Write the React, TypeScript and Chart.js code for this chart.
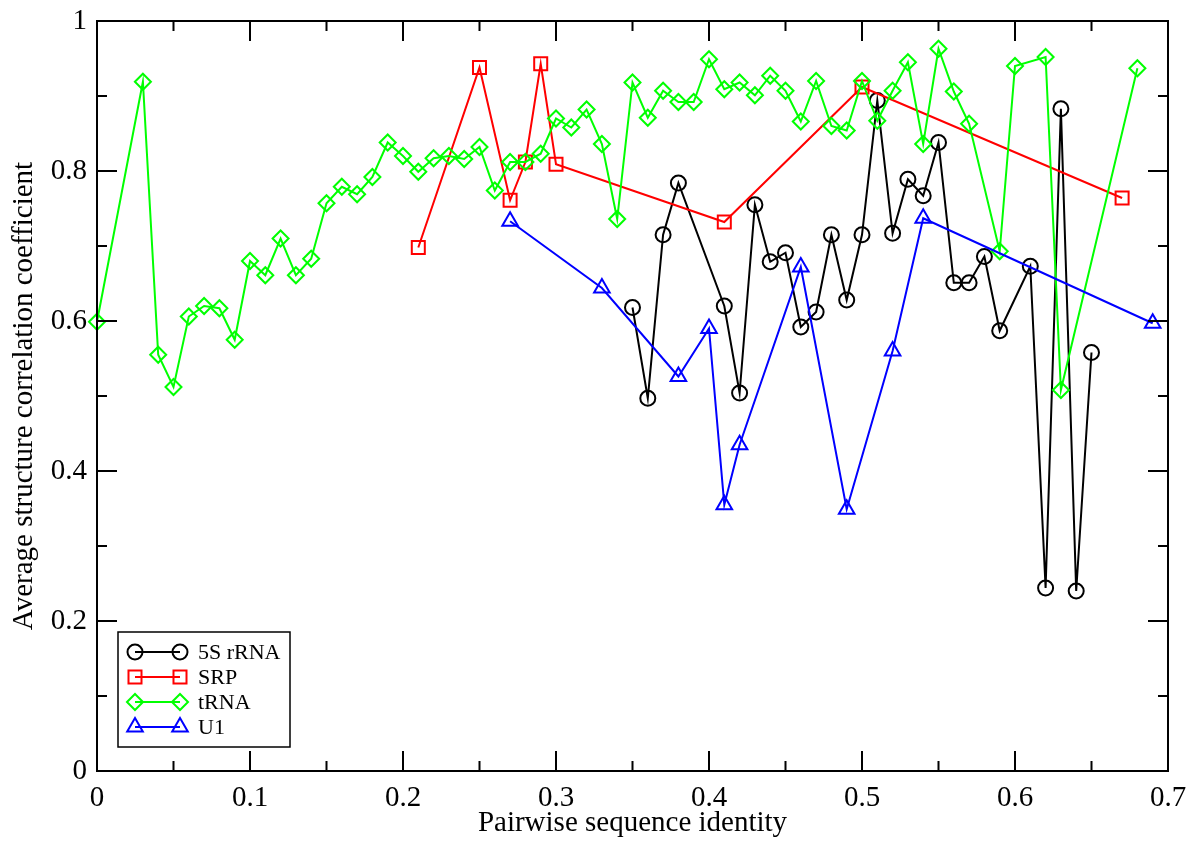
import React, { useEffect, useRef } from 'react';
import { Chart, registerables } from 'chart.js';
import { drawPoint } from 'chart.js/helpers';

Chart.register(...registerables);

// Pairwise sequence identity (x) vs. average structure correlation coefficient (y)
const rrna5sX = [0.35, 0.36, 0.37, 0.38, 0.41, 0.42, 0.43, 0.44, 0.45, 0.46, 0.47, 0.48, 0.49, 0.5, 0.51, 0.52, 0.53, 0.54, 0.55, 0.56, 0.57, 0.58, 0.59, 0.61, 0.62, 0.63, 0.64, 0.65];
const rrna5sY = [0.618, 0.497, 0.715, 0.784, 0.62, 0.504, 0.755, 0.679, 0.691, 0.592, 0.612, 0.715, 0.628, 0.715, 0.894, 0.717, 0.789, 0.767, 0.838, 0.651, 0.651, 0.686, 0.587, 0.673, 0.244, 0.883, 0.24, 0.558];

const srpX = [0.21, 0.25, 0.27, 0.28, 0.29, 0.3, 0.41, 0.5, 0.67];
const srpY = [0.698, 0.938, 0.761, 0.812, 0.943, 0.809, 0.732, 0.912, 0.764];

const trnaX = [0, 0.03, 0.04, 0.05, 0.06, 0.07, 0.08, 0.09, 0.1, 0.11, 0.12, 0.13, 0.14, 0.15, 0.16, 0.17, 0.18, 0.19, 0.2, 0.21, 0.22, 0.23, 0.24, 0.25, 0.26, 0.27, 0.28, 0.29, 0.3, 0.31, 0.32, 0.33, 0.34, 0.35, 0.36, 0.37, 0.38, 0.39, 0.4, 0.41, 0.42, 0.43, 0.44, 0.45, 0.46, 0.47, 0.48, 0.49, 0.5, 0.51, 0.52, 0.53, 0.54, 0.55, 0.56, 0.57, 0.59, 0.6, 0.62, 0.63, 0.68];
const trnaY = [0.599, 0.919, 0.555, 0.512, 0.606, 0.62, 0.617, 0.575, 0.68, 0.661, 0.71, 0.661, 0.683, 0.757, 0.779, 0.769, 0.792, 0.838, 0.82, 0.799, 0.817, 0.82, 0.816, 0.832, 0.774, 0.812, 0.812, 0.823, 0.87, 0.858, 0.882, 0.836, 0.736, 0.918, 0.871, 0.907, 0.892, 0.892, 0.949, 0.909, 0.918, 0.901, 0.927, 0.907, 0.866, 0.92, 0.86, 0.854, 0.92, 0.867, 0.907, 0.945, 0.836, 0.963, 0.906, 0.863, 0.693, 0.94, 0.952, 0.508, 0.937];

const u1X = [0.27, 0.33, 0.38, 0.4, 0.41, 0.42, 0.46, 0.49, 0.52, 0.54, 0.69];
const u1Y = [0.733, 0.644, 0.526, 0.59, 0.355, 0.435, 0.672, 0.349, 0.56, 0.737, 0.597];

const seriesLabels = ['5S rRNA', 'SRP', 'tRNA', 'U1'];
const seriesColors = ['#000000', '#ff0000', '#00ff00', '#0000ff'];
const seriesMarkers = ['circle', 'rect', 'rectRot', 'triangle'];
const markerRadii = [7.5, 9.2, 8, 9];

const xTitle = 'Pairwise sequence identity';
const yTitle = 'Average structure correlation coefficient';

const SERIF = '"Liberation Serif", "Times New Roman", Times, serif';

const toPoints = (xs: number[], ys: number[]) => xs.map((x, i) => ({ x, y: ys[i] }));

// Keep the plot area fixed: the axis box size is set here and the
// end-label overhang is absorbed by the layout padding instead.
const fixAxis = (size: number) => (scale: any) => {
  if (scale.isHorizontal()) scale.height = size;
  else scale.width = size;
  scale.paddingTop = 0;
  scale.paddingBottom = 0;
  scale.paddingLeft = 0;
  scale.paddingRight = 0;
};

// Draws the boxed frame with inward major/minor ticks on all four sides,
// plus the framed legend in the lower-left corner of the plot.
const frameAndLegend = {
  id: 'frameAndLegend',
  afterDraw(chart: any) {
    const { ctx, chartArea: a, scales } = chart;
    const xs = scales.x;
    const ys = scales.y;
    const majorLen = 20;
    const minorLen = 10;

    ctx.save();
    ctx.strokeStyle = '#000';
    ctx.lineWidth = 2;
    ctx.lineCap = 'butt';
    ctx.beginPath();

    const xv: number[] = xs.ticks.map((t: any) => t.value);
    xv.forEach((v, i) => {
      const px = xs.getPixelForValue(v);
      ctx.moveTo(px, a.bottom); ctx.lineTo(px, a.bottom - majorLen);
      ctx.moveTo(px, a.top); ctx.lineTo(px, a.top + majorLen);
      if (i < xv.length - 1) {
        const pm = xs.getPixelForValue((v + xv[i + 1]) / 2);
        ctx.moveTo(pm, a.bottom); ctx.lineTo(pm, a.bottom - minorLen);
        ctx.moveTo(pm, a.top); ctx.lineTo(pm, a.top + minorLen);
      }
    });

    const yv: number[] = ys.ticks.map((t: any) => t.value);
    yv.forEach((v, i) => {
      const py = ys.getPixelForValue(v);
      ctx.moveTo(a.left, py); ctx.lineTo(a.left + majorLen, py);
      ctx.moveTo(a.right, py); ctx.lineTo(a.right - majorLen, py);
      if (i < yv.length - 1) {
        const pm = ys.getPixelForValue((v + yv[i + 1]) / 2);
        ctx.moveTo(a.left, pm); ctx.lineTo(a.left + minorLen, pm);
        ctx.moveTo(a.right, pm); ctx.lineTo(a.right - minorLen, pm);
      }
    });
    ctx.stroke();

    ctx.strokeRect(a.left, a.top, a.right - a.left, a.bottom - a.top);

    // legend box
    const boxW = 172;
    const boxH = 115;
    const bx = a.left + 21;
    const by = a.bottom - 24 - boxH;
    ctx.fillStyle = '#fff';
    ctx.fillRect(bx, by, boxW, boxH);
    ctx.lineWidth = 1.5;
    ctx.strokeRect(bx, by, boxW, boxH);

    ctx.font = `22px ${SERIF}`;
    ctx.textBaseline = 'middle';
    ctx.textAlign = 'left';
    chart.data.datasets.forEach((ds: any, i: number) => {
      const ry = by + 20 + i * 25;
      const x0 = bx + 17;
      const x1 = bx + 62;
      ctx.strokeStyle = ds.borderColor;
      ctx.lineWidth = 2;
      ctx.beginPath();
      ctx.moveTo(x0, ry);
      ctx.lineTo(x1, ry);
      ctx.stroke();
      ctx.fillStyle = 'rgba(0,0,0,0)';
      const opts = { pointStyle: ds.pointStyle, radius: ds.pointRadius, borderWidth: 2, rotation: 0 };
      drawPoint(ctx, opts as any, x0, ry);
      drawPoint(ctx, opts as any, x1, ry);
      ctx.fillStyle = '#000';
      ctx.fillText(ds.label, bx + 80, ry + 1);
    });

    ctx.restore();
  },
};

export default function App() {
  const canvasRef = useRef<HTMLCanvasElement | null>(null);

  useEffect(() => {
    if (!canvasRef.current) return;
    const seriesData = [
      toPoints(rrna5sX, rrna5sY),
      toPoints(srpX, srpY),
      toPoints(trnaX, trnaY),
      toPoints(u1X, u1Y),
    ];
    const chart = new Chart(canvasRef.current, {
      type: 'line',
      data: {
        datasets: seriesData.map((data, i) => ({
          label: seriesLabels[i],
          data,
          borderColor: seriesColors[i],
          backgroundColor: 'rgba(0,0,0,0)',
          borderWidth: 2,
          tension: 0,
          fill: false,
          pointStyle: seriesMarkers[i],
          pointRadius: markerRadii[i],
          pointBorderWidth: 2,
          pointBorderColor: seriesColors[i],
          pointBackgroundColor: 'rgba(0,0,0,0)',
          clip: false as any,
          order: seriesLabels.length - 1 - i,
        })),
      },
      options: {
        responsive: false,
        animation: false,
        events: [],
        layout: { padding: { left: 0, right: 22, top: 21, bottom: 0 } },
        plugins: {
          legend: { display: false },
          tooltip: { enabled: false },
        },
        scales: {
          x: {
            type: 'linear',
            min: 0,
            max: 0.7,
            grid: { display: false, drawTicks: false },
            border: { display: false },
            ticks: {
              stepSize: 0.1,
              padding: 10,
              color: '#000',
              font: { family: SERIF, size: 29 },
              callback: (v: any) => String(Math.round(Number(v) * 10) / 10),
            },
            title: {
              display: true,
              text: xTitle,
              color: '#000',
              font: { family: SERIF, size: 29 },
              padding: { top: 0, bottom: 1 },
            },
            afterFit: fixAxis(71),
          },
          y: {
            type: 'linear',
            min: 0,
            max: 1,
            grid: { display: false, drawTicks: false },
            border: { display: false },
            ticks: {
              stepSize: 0.2,
              padding: 10,
              color: '#000',
              font: { family: SERIF, size: 29 },
              callback: (v: any) => String(Math.round(Number(v) * 10) / 10),
            },
            title: {
              display: true,
              text: yTitle,
              color: '#000',
              font: { family: SERIF, size: 29 },
              padding: { top: 7, bottom: 0 },
            },
            afterFit: fixAxis(97),
          },
        },
      },
      plugins: [frameAndLegend],
    });
    return () => chart.destroy();
  }, []);

  return (
    <div style={{ position: 'absolute', left: 0, top: 0, width: 1190, height: 842, background: '#fff' }}>
      <canvas ref={canvasRef} width={1190} height={842} style={{ display: 'block' }} />
    </div>
  );
}
